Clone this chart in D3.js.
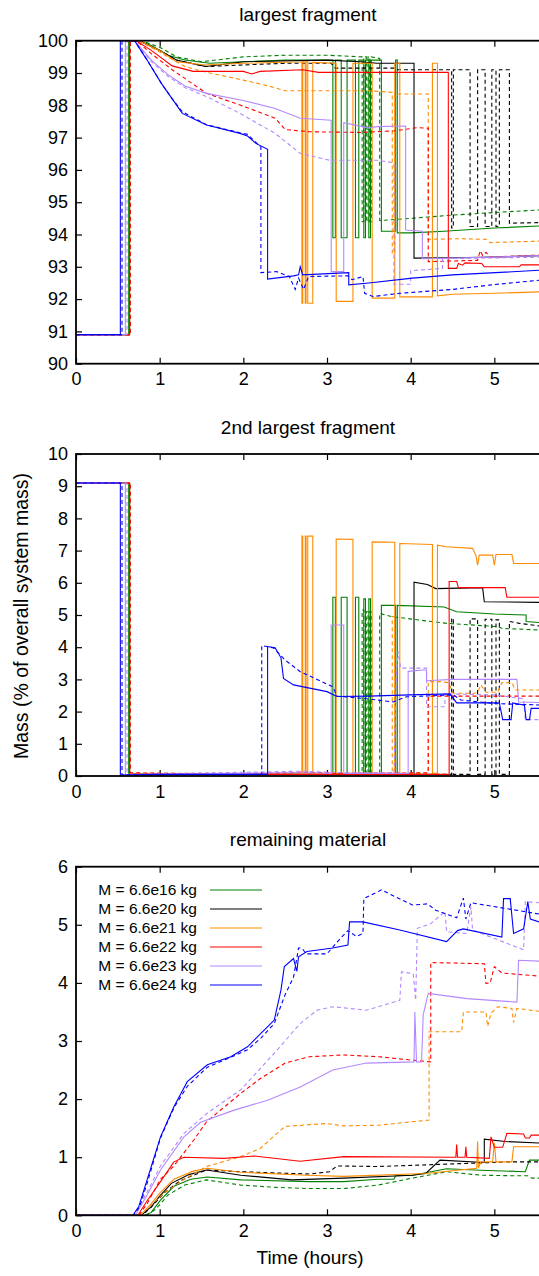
<!DOCTYPE html>
<html><head><meta charset="utf-8">
<script src="https://cdn.jsdelivr.net/npm/d3@7"></script>
<style>
body{margin:0;background:#fff;overflow:hidden}
text{font-family:"Liberation Sans",Arial,Helvetica,sans-serif;fill:#000}
</style>
</head><body>
<svg id="c" width="539" height="1276"></svg>
<script>
// ---------------- DATA ----------------
const masses = ["6.6e16","6.6e20","6.6e21","6.6e22","6.6e23","6.6e24"];
const legendLabels = ["M = 6.6e16 kg","M = 6.6e20 kg","M = 6.6e21 kg","M = 6.6e22 kg","M = 6.6e23 kg","M = 6.6e24 kg"];
const panelTitles = ["largest fragment","2nd largest fragment","remaining material"];
const xTicks = [0,1,2,3,4,5,6];
const xTickLabels = ["0","1","2","3","4","5",""];
const yTicks1 = [90,91,92,93,94,95,96,97,98,99,100];
const yTicks2 = [0,1,2,3,4,5,6,7,8,9,10];
const yTicks3 = [0,1,2,3,4,5,6];

// Panel 1: largest fragment (time h, mass %)
const L16s=[[0,90.9],[0.63,90.9],[0.63,100],[0.75,100],[0.9,99.85],[1.1,99.55],[1.3,99.4],[1.6,99.3],[2.0,99.35],[2.5,99.4],[3.07,99.4],[3.07,93.9],[3.10,93.9],[3.10,99.4],[3.17,99.4],[3.17,93.9],[3.24,93.9],[3.24,99.4],[3.34,99.4],[3.34,93.9],[3.38,93.9],[3.38,99.4],[3.44,99.4],[3.44,93.9],[3.46,93.9],[3.46,99.4],[3.50,99.4],[3.50,93.9],[3.52,93.9],[3.52,99.4],[3.65,99.4],[3.65,94.1],[3.82,94.1],[3.82,99.4],[3.84,99.4],[3.84,94.05],[4.0,94.05],[4.4,94.1],[5.0,94.2],[5.6,94.27]];
const L16d=[[0,90.9],[0.64,90.9],[0.64,100],[0.78,100],[1.0,99.8],[1.2,99.5],[1.5,99.35],[2.0,99.5],[2.5,99.55],[3.0,99.55],[3.42,99.5],[3.42,94.4],[3.44,94.4],[3.44,99.5],[3.47,99.5],[3.47,94.4],[3.49,94.4],[3.49,99.5],[3.51,99.5],[3.51,94.4],[3.53,94.4],[3.53,99.5],[3.63,99.45],[3.63,94.43],[4.0,94.5],[4.5,94.6],[5.0,94.68],[5.6,94.77]];
const L20s=[[0,90.9],[0.64,90.9],[0.64,100],[0.75,100],[1.0,99.7],[1.2,99.4],[1.55,99.2],[2.0,99.35],[3.0,99.4],[3.4,99.35],[3.6,99.3],[4.04,99.3],[4.04,93.27],[4.5,93.28],[5.0,93.3],[5.6,93.35]];
const L20d=[[0,90.9],[0.64,90.9],[0.64,100],[0.75,100],[1.0,99.7],[1.2,99.4],[1.55,99.2],[2.0,99.25],[2.5,99.3],[3.05,99.3],[3.1,99.15],[3.8,99.15],[3.85,99.1],[4.49,99.1],[4.49,94.2],[4.51,94.2],[4.51,99.1],[4.71,99.1],[4.71,94.25],[4.80,94.25],[4.80,99.1],[4.89,99.1],[4.89,94.25],[4.97,94.25],[4.97,99.1],[5.02,99.1],[5.02,94.25],[5.06,94.25],[5.06,99.1],[5.18,99.1],[5.18,94.35],[5.6,94.37]];
const L21s=[[0,90.9],[0.64,90.9],[0.64,100],[0.75,100],[1.0,99.7],[1.2,99.35],[1.55,99.25],[2.0,99.3],[2.70,99.35],[2.70,91.87],[2.71,91.87],[2.71,99.35],[2.74,99.35],[2.74,91.87],[2.75,91.87],[2.75,99.35],[2.77,99.35],[2.77,91.87],[2.83,91.87],[2.83,99.33],[3.11,99.3],[3.11,91.93],[3.31,91.93],[3.31,99.3],[3.54,99.3],[3.54,92.03],[3.81,92.03],[3.81,99.3],[3.87,99.3],[3.87,92.07],[4.26,92.07],[4.26,99.3],[4.32,99.3],[4.32,92.1],[4.5,92.15],[5.0,92.18],[5.6,92.23]];
const L21d=[[0,90.9],[0.64,90.9],[0.64,100],[0.75,100],[1.0,99.65],[1.3,99.2],[1.6,99.0],[2.0,98.78],[2.3,98.6],[2.5,98.45],[3.0,98.45],[3.5,98.45],[3.78,98.4],[3.78,93.42],[3.81,93.42],[3.81,98.35],[4.21,98.35],[4.21,93.85],[4.6,93.87],[4.9,93.85],[4.95,93.75],[5.6,93.8]];
const L22s=[[0,90.9],[0.64,90.9],[0.64,100],[0.72,100],[0.9,99.7],[1.15,99.22],[1.4,99.05],[2.0,99.05],[2.1,98.97],[2.2,99.05],[2.71,99.1],[2.9,99.02],[4.45,99.02],[4.45,92.95],[4.55,92.95],[4.57,93.1],[4.62,93.05],[4.65,93.12],[4.85,93.1],[4.88,93.0],[5.3,93.0],[5.32,93.06],[5.6,93.06]];
const L22d=[[0,90.9],[0.65,90.9],[0.65,100],[0.72,100],[0.9,99.6],[1.15,99.1],[1.56,98.37],[1.96,98.01],[2.38,97.6],[2.5,97.25],[2.79,97.18],[3.4,97.16],[3.81,97.21],[4.08,97.31],[4.21,97.29],[4.21,93.16],[4.8,93.2],[4.83,93.5],[4.86,93.35],[4.9,93.45],[4.95,93.3],[5.6,93.37]];
const L23s=[[0,90.9],[0.59,90.9],[0.59,100],[0.7,100],[0.9,99.4],[1.1,98.95],[1.3,98.6],[1.56,98.37],[2.0,98.15],[2.38,97.9],[2.68,97.6],[3.05,97.54],[3.05,92.85],[3.20,92.85],[3.20,97.46],[3.5,97.3],[3.6,97.34],[3.94,97.36],[3.94,94.14],[4.14,94.1],[4.14,93.25],[5.0,93.3],[5.6,93.35]];
const L23d=[[0,90.9],[0.61,90.9],[0.61,100],[0.7,100],[0.9,99.35],[1.1,98.9],[1.3,98.55],[1.56,98.27],[1.96,97.75],[2.38,97.13],[2.68,96.51],[3.03,96.3],[3.6,96.3],[3.80,96.22],[3.80,92.46],[4.0,92.46],[4.0,92.88],[4.38,92.95],[4.38,93.25],[5.6,93.3]];
const L24s=[[0,90.9],[0.53,90.9],[0.53,100],[0.7,100],[0.85,99.4],[1.02,98.68],[1.15,98.2],[1.27,97.75],[1.56,97.39],[1.96,97.13],[2.05,97.05],[2.15,96.82],[2.29,96.64],[2.29,92.62],[2.6,92.72],[2.66,92.75],[2.68,93.0],[2.71,92.75],[3.26,92.82],[3.26,92.44],[3.5,92.5],[4.02,92.65],[4.5,92.75],[5.6,92.9]];
const L24d=[[0,90.9],[0.55,90.9],[0.55,100],[0.7,100],[0.85,99.4],[1.02,98.68],[1.15,98.2],[1.27,97.8],[1.56,97.4],[1.96,97.15],[2.05,97.1],[2.21,96.7],[2.21,92.82],[2.4,92.85],[2.55,92.7],[2.62,92.3],[2.66,92.65],[2.72,92.3],[2.78,92.7],[3.25,92.72],[3.3,92.6],[3.43,92.7],[3.45,92.18],[3.55,92.08],[3.87,92.18],[4.5,92.3],[5.0,92.45],[5.6,92.6]];

// Panel 2: 2nd largest fragment
const S16s=[[0,9.1],[0.63,9.1],[0.63,0.05],[3.07,0.05],[3.07,5.55],[3.10,5.55],[3.10,0.05],[3.17,0.05],[3.17,5.55],[3.24,5.55],[3.24,0.05],[3.34,0.05],[3.34,5.55],[3.38,5.55],[3.38,0.05],[3.44,0.05],[3.44,5.5],[3.46,5.5],[3.46,0.05],[3.50,0.05],[3.50,5.5],[3.52,5.5],[3.52,0.05],[3.65,0.05],[3.65,5.3],[3.82,5.3],[3.82,0.05],[3.84,0.05],[3.84,5.3],[4.4,5.25],[4.55,5.1],[5.0,5.03],[5.38,5.0],[5.38,4.8],[5.6,4.75]];
const S16d=[[0,9.1],[0.64,9.1],[0.64,0.05],[3.42,0.05],[3.42,5.15],[3.44,5.15],[3.44,0.05],[3.47,0.05],[3.47,5.1],[3.49,5.1],[3.49,0.05],[3.51,0.05],[3.51,5.1],[3.53,5.1],[3.53,0.05],[3.63,0.05],[3.63,5.05],[3.77,4.95],[4.43,4.74],[5.04,4.64],[5.1,4.58],[5.6,4.53]];
const S20s=[[0,9.1],[0.64,9.1],[0.64,0.05],[4.04,0.05],[4.04,6.02],[4.2,5.95],[4.3,5.82],[4.86,5.85],[4.88,5.41],[5.6,5.39]];
const S20d=[[0,9.1],[0.64,9.1],[0.64,0.05],[4.49,0.05],[4.49,4.9],[4.51,4.9],[4.51,0.05],[4.71,0.05],[4.71,4.88],[4.80,4.88],[4.80,0.05],[4.89,0.05],[4.89,4.87],[4.97,4.87],[4.97,0.05],[5.02,0.05],[5.02,4.85],[5.06,4.85],[5.06,0.05],[5.18,0.05],[5.18,4.8],[5.3,4.74],[5.6,4.64]];
const S21s=[[0,9.1],[0.64,9.1],[0.64,0.05],[2.70,0.05],[2.70,7.45],[2.71,7.45],[2.71,0.05],[2.74,0.05],[2.74,7.45],[2.75,7.45],[2.75,0.05],[2.77,0.05],[2.77,7.45],[2.83,7.45],[2.83,0.08],[3.11,0.08],[3.11,7.36],[3.31,7.35],[3.31,0.08],[3.54,0.08],[3.54,7.27],[3.81,7.26],[3.81,0.08],[3.87,0.08],[3.87,7.22],[4.26,7.19],[4.26,0.08],[4.32,0.08],[4.32,7.17],[4.43,7.12],[4.74,7.07],[4.78,6.85],[4.80,6.55],[4.82,6.86],[4.98,6.86],[5.0,6.55],[5.02,6.88],[5.21,6.88],[5.23,6.6],[5.6,6.6]];
const S21d=[[0,9.1],[0.64,9.1],[0.64,0.08],[3.78,0.08],[3.78,4.95],[3.81,4.95],[3.81,0.08],[4.21,0.08],[4.21,2.93],[4.35,2.93],[4.45,2.9],[4.51,2.57],[4.76,2.57],[4.8,2.6],[4.84,2.83],[4.9,2.6],[5.04,2.6],[5.09,2.9],[5.21,2.9],[5.25,2.67],[5.6,2.67]];
const S22s=[[0,9.1],[0.64,9.1],[0.64,0.05],[4.46,0.05],[4.46,6.04],[4.55,6.04],[4.57,5.85],[5.13,5.85],[5.15,5.55],[5.6,5.55]];
const S22d=[[0,9.1],[0.65,9.1],[0.65,0.1],[2.0,0.05],[2.7,0.12],[3.2,0.08],[4.21,0.1],[4.21,2.48],[5.6,2.48]];
const S23s=[[0,9.1],[0.59,9.1],[0.59,0.04],[2.5,0.1],[2.8,0.1],[3.05,0.08],[3.05,4.69],[3.20,4.69],[3.20,0.08],[3.97,0.08],[3.97,3.25],[4.15,3.29],[4.19,3.29],[4.19,2.96],[4.5,3.0],[5.27,3.0],[5.29,2.3],[5.6,2.28]];
const S23d=[[0,9.1],[0.61,9.1],[0.61,0.05],[2.7,0.15],[3.2,0.1],[3.8,0.1],[3.83,3.2],[3.85,3.86],[3.88,3.35],[4.19,3.35],[4.19,2.15],[4.41,2.15],[4.41,2.55],[5.0,2.52],[5.2,2.45],[5.35,2.4],[5.37,1.75],[5.6,1.75]];
const S24s=[[0,9.1],[0.53,9.1],[0.53,0.03],[1.0,0.05],[2.29,0.05],[2.29,4.02],[2.38,3.98],[2.45,3.67],[2.48,3.03],[2.6,2.83],[3.0,2.62],[3.12,2.47],[3.5,2.48],[3.99,2.52],[4.47,2.55],[4.55,2.27],[5.06,2.27],[5.1,1.75],[5.2,1.75],[5.22,2.27],[5.36,2.2],[5.38,1.75],[5.42,1.75],[5.44,2.1],[5.6,2.1]];
const S24d=[[0,9.1],[0.55,9.1],[0.55,0.03],[2.22,0.05],[2.22,4.05],[2.36,3.98],[2.5,3.6],[2.68,3.24],[3.07,2.77],[3.12,2.48],[3.47,2.4],[3.79,2.3],[3.95,2.46],[4.51,2.52],[4.6,2.36],[5.0,2.25],[5.6,2.2]];

// Panel 3: remaining material
const R16s=[[0,0],[0.82,0],[0.9,0.05],[1.01,0.26],[1.17,0.5],[1.37,0.62],[1.57,0.66],[1.97,0.61],[2.79,0.58],[3.2,0.58],[3.61,0.62],[3.8,0.62],[3.82,0.68],[4.02,0.69],[4.43,0.8],[4.76,0.78],[5.37,0.75],[5.42,0.95],[5.6,0.95]];
const R16d=[[0,0],[0.84,0],[0.95,0.1],[1.1,0.35],[1.3,0.52],[1.56,0.61],[1.97,0.52],[2.4,0.48],[2.79,0.46],[3.2,0.46],[3.61,0.52],[4.02,0.64],[4.43,0.75],[4.84,0.69],[5.25,0.68],[5.4,0.68],[5.45,0.64],[5.6,0.64]];
const R20s=[[0,0],[0.78,0],[0.9,0.15],[1.0,0.33],[1.14,0.55],[1.35,0.7],[1.56,0.78],[1.97,0.69],[2.58,0.61],[3.2,0.64],[4.02,0.69],[4.18,0.72],[4.35,0.95],[4.88,0.91],[4.88,1.31],[5.13,1.27],[5.6,1.24]];
const R20d=[[0,0],[0.79,0],[0.9,0.14],[1.05,0.38],[1.25,0.6],[1.56,0.78],[1.97,0.75],[2.79,0.71],[3.03,0.75],[3.12,0.85],[3.61,0.84],[4.43,0.88],[5.17,0.92],[5.6,0.92]];
const R21s=[[0,0],[0.77,0],[0.9,0.2],[1.0,0.38],[1.17,0.62],[1.4,0.76],[1.57,0.81],[1.97,0.74],[2.76,0.69],[3.2,0.67],[4.18,0.72],[4.79,0.81],[4.8,1.27],[4.81,0.82],[4.84,0.92],[4.98,0.92],[5.0,1.25],[5.02,0.92],[5.21,0.92],[5.23,1.18],[5.6,1.18]];
const R21d=[[0,0],[0.77,0],[0.9,0.18],[1.05,0.38],[1.27,0.6],[1.56,0.84],[1.97,1.01],[2.2,1.15],[2.38,1.38],[2.5,1.53],[2.99,1.58],[3.2,1.54],[3.61,1.55],[4.22,1.64],[4.22,3.16],[4.61,3.16],[4.63,3.5],[4.9,3.5],[4.92,3.25],[4.96,3.48],[5.04,3.59],[5.21,3.56],[5.23,3.32],[5.27,3.56],[5.6,3.5]];
const R22s=[[0,0],[0.74,0],[0.85,0.25],[1.01,0.58],[1.17,0.92],[1.29,1.0],[1.77,0.98],[2.13,1.02],[2.68,0.93],[3.2,1.01],[4.54,1.0],[4.55,1.22],[4.56,1.0],[4.65,1.0],[4.66,1.18],[4.67,1.0],[4.94,0.98],[4.96,1.35],[5.0,1.17],[5.1,1.17],[5.15,1.41],[5.35,1.4],[5.37,1.33],[5.42,1.33],[5.44,1.38],[5.6,1.38]];
const R22d=[[0,0],[0.75,0],[0.85,0.2],[1.01,0.62],[1.17,0.85],[1.41,1.3],[1.56,1.61],[1.97,2.1],[2.2,2.35],[2.5,2.62],[2.79,2.73],[3.2,2.76],[3.61,2.73],[4.02,2.67],[4.24,2.64],[4.24,4.35],[4.88,4.33],[4.9,3.99],[4.95,4.0],[5.0,4.28],[5.09,4.17],[5.6,4.11]];
const R23s=[[0,0],[0.71,0],[0.85,0.35],[1.01,0.78],[1.29,1.35],[1.49,1.6],[1.89,1.81],[2.29,1.98],[2.68,2.21],[3.07,2.5],[3.47,2.62],[4.04,2.64],[4.05,3.5],[4.07,2.64],[4.13,2.64],[4.15,3.45],[4.21,3.82],[4.67,3.73],[5.27,3.67],[5.29,4.39],[5.6,4.37]];
const R23d=[[0,0],[0.7,0],[0.85,0.4],[1.01,0.85],[1.29,1.41],[1.57,1.76],[1.97,2.16],[2.37,2.79],[2.68,3.3],[2.88,3.53],[3.07,3.59],[3.47,3.53],[3.87,3.7],[3.89,4.19],[4.03,4.16],[4.06,3.7],[4.08,4.94],[4.24,5.02],[4.41,5.23],[4.43,4.88],[4.67,4.85],[4.72,5.31],[4.74,4.91],[5.35,4.57],[5.37,5.4],[5.6,5.37]];
const R24s=[[0,0],[0.68,0],[0.75,0.15],[0.83,0.52],[1.01,1.35],[1.17,1.87],[1.33,2.3],[1.57,2.59],[1.85,2.73],[2.05,2.9],[2.21,3.13],[2.37,3.36],[2.45,3.88],[2.49,4.28],[2.6,4.42],[2.64,4.2],[2.66,4.45],[2.76,4.54],[3.07,4.6],[3.25,4.65],[3.27,5.05],[3.43,5.05],[3.87,4.91],[4.43,4.71],[4.56,4.9],[4.63,4.93],[5.09,4.79],[5.11,5.45],[5.19,5.45],[5.23,4.85],[5.35,4.93],[5.4,5.4],[5.43,5.1],[5.6,5.02]];
const R24d=[[0,0],[0.69,0],[0.76,0.15],[0.85,0.55],[1.01,1.33],[1.17,1.85],[1.33,2.22],[1.57,2.55],[1.85,2.72],[2.05,2.85],[2.21,3.05],[2.37,3.3],[2.5,3.8],[2.6,4.1],[2.66,4.6],[2.7,4.6],[2.75,4.5],[3.0,4.5],[3.15,4.75],[3.25,4.9],[3.35,4.8],[3.43,4.85],[3.44,5.45],[3.65,5.6],[4.02,5.34],[4.2,5.36],[4.3,5.25],[4.55,5.12],[4.63,5.46],[4.66,5.1],[4.72,5.38],[5.6,5.17]];

// ---------------- STYLE / LAYOUT ----------------
const colors = ["#008000","#000000","#ff8c00","#ff0000","#b388ff","#0000ff"];
const X0 = 76, X1 = 578;
const panels = [
  {title:panelTitles[0], top:40.7, bottom:363.7, domain:[90,100], ticks:yTicks1, titleY:21,
   solid:[L16s,L20s,L21s,L22s,L23s,L24s], dashed:[L16d,L20d,L21d,L22d,L23d,L24d]},
  {title:panelTitles[1], top:454, bottom:776, domain:[0,10], ticks:yTicks2, titleY:434,
   solid:[S16s,S20s,S21s,S22s,S23s,S24s], dashed:[S16d,S20d,S21d,S22d,S23d,S24d]},
  {title:panelTitles[2], top:866.7, bottom:1215.3, domain:[0,6], ticks:yTicks3, titleY:846,
   solid:[R16s,R20s,R21s,R22s,R23s,R24s], dashed:[R16d,R20d,R21d,R22d,R23d,R24d], legend:true}
];

const svg = d3.select("#c");
const x = d3.scaleLinear().domain([0,6]).range([X0,X1]);

panels.forEach((p,pi)=>{
  const y = d3.scaleLinear().domain(p.domain).range([p.bottom,p.top]);
  const g = svg.append("g");
  const cid = "clip"+pi;
  svg.append("clipPath").attr("id",cid).append("rect")
    .attr("x",X0).attr("y",p.top).attr("width",X1-X0).attr("height",p.bottom-p.top);

  g.append("text").attr("x",308).attr("y",p.titleY).attr("text-anchor","middle")
    .style("font-size","19px").text(p.title);

  const ax = d3.axisBottom(x).tickValues(xTicks).tickSize(-6).tickPadding(9)
    .tickFormat((d,i)=>xTickLabels[i]);
  const gx = g.append("g").attr("transform",`translate(0,${p.bottom})`).call(ax);
  const axT = d3.axisTop(x).tickValues(xTicks).tickSize(-6).tickFormat("");
  const gxt = g.append("g").attr("transform",`translate(0,${p.top})`).call(axT);
  const ay = d3.axisLeft(y).tickValues(p.ticks).tickSize(-6).tickPadding(8).tickFormat(d3.format("d"));
  const gy = g.append("g").attr("transform",`translate(${X0},0)`).call(ay);
  [gx,gxt,gy].forEach(a=>{
    a.select(".domain").remove();
    a.selectAll("line").attr("stroke","#000").attr("stroke-width",1.2);
    a.selectAll("text").style("font-size","18px").attr("fill","#000")
      .style("font-family",'"Liberation Sans",Arial,sans-serif');
  });
  gx.selectAll("text").filter(function(){return this.textContent==="";}).remove();

  const line = d3.line().x(d=>x(d[0])).y(d=>y(d[1]));
  const lg = g.append("g").attr("clip-path",`url(#${cid})`);
  for(let i=0;i<6;i++){
    lg.append("path").datum(p.solid[i]).attr("d",line)
      .attr("fill","none").attr("stroke",colors[i]).attr("stroke-width",1.1);
    lg.append("path").datum(p.dashed[i]).attr("d",line)
      .attr("fill","none").attr("stroke",colors[i]).attr("stroke-width",1.1)
      .attr("stroke-dasharray","4,3");
  }

  g.append("rect").attr("x",X0).attr("y",p.top).attr("width",X1-X0).attr("height",p.bottom-p.top)
    .attr("fill","none").attr("stroke","#000").attr("stroke-width",1.8);

  if(p.legend){
    const lgd = g.append("g");
    legendLabels.forEach((lab,i)=>{
      const yy = 890 + i*19;
      lgd.append("text").attr("x",197).attr("y",yy).attr("dy","0.35em")
        .attr("text-anchor","end").style("font-size","15.5px").text(lab);
      lgd.append("line").attr("x1",210).attr("x2",262).attr("y1",yy).attr("y2",yy)
        .attr("stroke",colors[i]).attr("stroke-width",1.1);
    });
  }
});

svg.append("text").attr("x",310).attr("y",1264).attr("text-anchor","middle")
  .style("font-size","19px").text("Time (hours)");
svg.append("text").attr("transform","translate(28,616) rotate(-90)").attr("text-anchor","middle")
  .style("font-size","19.5px").text("Mass (% of overall system mass)");
</script>
</body></html>
